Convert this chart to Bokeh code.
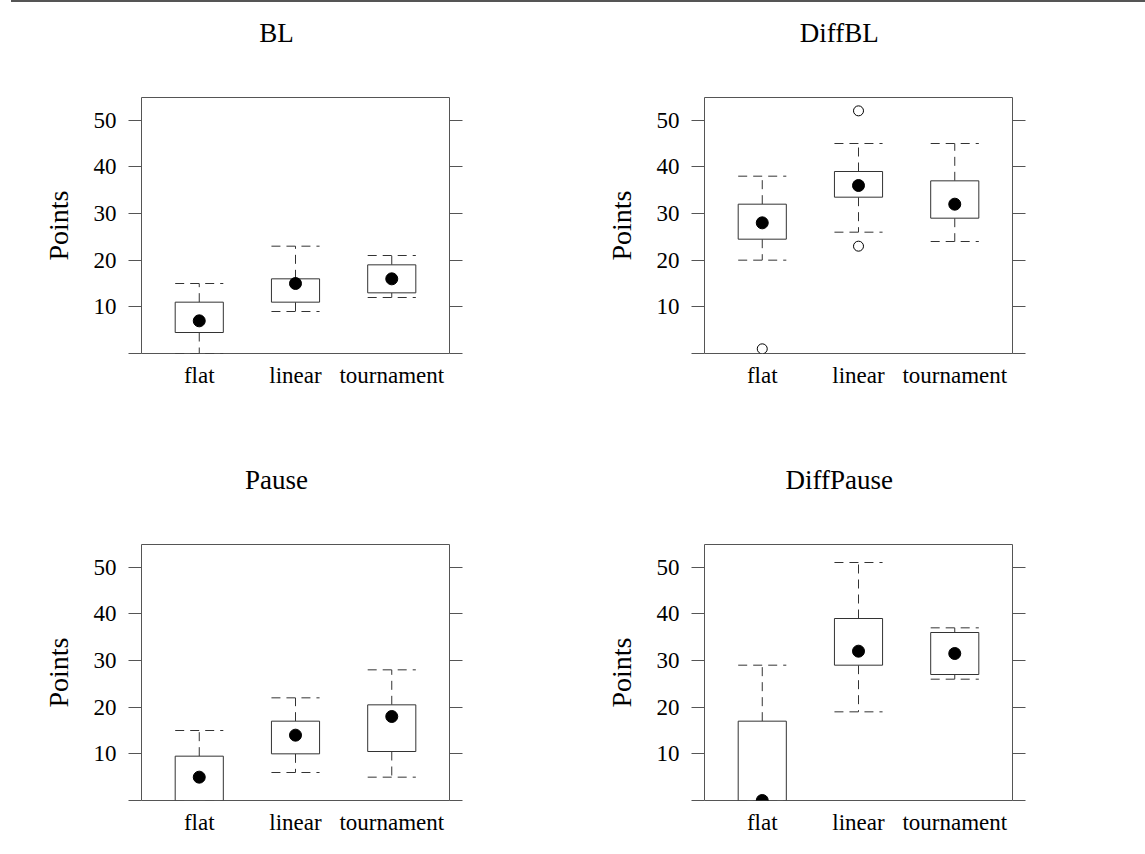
from bokeh.plotting import figure
from bokeh.layouts import column, row
from bokeh.models import Range1d, LinearAxis, FixedTicker, Title, Div
from bokeh.embed import file_html
from bokeh.resources import INLINE

categories = ["flat", "linear", "tournament"]

# five-number summaries per panel (lower whisker, Q1, median, Q3, upper whisker)
bl_lower = [0, 9, 12]
bl_q1 = [4.5, 11, 13]
bl_median = [7, 15, 16]
bl_q3 = [11, 16, 19]
bl_upper = [15, 23, 21]
bl_outliers = []

diffbl_lower = [20, 26, 24]
diffbl_q1 = [24.5, 33.5, 29]
diffbl_median = [28, 36, 32]
diffbl_q3 = [32, 39, 37]
diffbl_upper = [38, 45, 45]
diffbl_outliers = [("flat", 1), ("linear", 52), ("linear", 23)]

pause_lower = [0, 6, 5]
pause_q1 = [0, 10, 10.5]
pause_median = [5, 14, 18]
pause_q3 = [9.5, 17, 20.5]
pause_upper = [15, 22, 28]
pause_outliers = []

diffpause_lower = [0, 19, 26]
diffpause_q1 = [0, 29, 27]
diffpause_median = [0, 32, 31.5]
diffpause_q3 = [17, 39, 36]
diffpause_upper = [29, 51, 37]
diffpause_outliers = []

y_ticks = [0, 10, 20, 30, 40, 50]
y_max = 54.86

panels = [
    ("BL", bl_lower, bl_q1, bl_median, bl_q3, bl_upper, bl_outliers),
    ("DiffBL", diffbl_lower, diffbl_q1, diffbl_median, diffbl_q3, diffbl_upper, diffbl_outliers),
    ("Pause", pause_lower, pause_q1, pause_median, pause_q3, pause_upper, pause_outliers),
    ("DiffPause", diffpause_lower, diffpause_q1, diffpause_median, diffpause_q3, diffpause_upper, diffpause_outliers),
]

FONT = "Liberation Serif"
FRAME = "#555555"
BOXC = "#333333"
W = 564
FW, FH = 308, 256
HALF = 0.25
TITLE_PX = 27
# Times/Liberation Serif advance widths (per 1000 em) for title glyphs
CHAR_W = {"B": 667, "L": 611, "D": 722, "i": 278, "f": 333, "P": 556,
          "a": 444, "u": 500, "s": 389, "e": 444}


def make_panel(idx, title, lo, q1, med, q3, up, outl):
    top_row = idx < 2
    left_col = idx % 2 == 0
    H = 417 if top_row else 419
    bl = 141 if left_col else 140
    bt = 95 if top_row else 125
    p = figure(width=W, height=H, output_backend="svg", toolbar_location=None,
               x_range=Range1d(0.4, 3.6), y_range=Range1d(0, y_max),
               min_border_left=bl, min_border_right=W - bl - FW,
               min_border_top=bt, min_border_bottom=H - bt - FH,
               y_axis_location=None, x_axis_location=None)
    p.grid.visible = False
    p.outline_line_color = FRAME
    p.outline_line_width = 1
    p.background_fill_color = "white"
    p.border_fill_color = "white"

    xs = [1, 2, 3]
    # left axis
    ya = LinearAxis(ticker=FixedTicker(ticks=y_ticks), axis_label="Points")
    ya.major_label_overrides = {0: ""}
    ya.major_tick_out = 13
    ya.major_tick_in = 0
    ya.minor_tick_out = 0
    ya.minor_tick_in = 0
    ya.major_tick_line_color = FRAME
    ya.axis_line_color = None
    ya.major_label_standoff = 12
    ya.major_label_text_font = FONT
    ya.major_label_text_font_size = "23px"
    ya.major_label_text_color = "black"
    ya.axis_label_text_font = FONT
    ya.axis_label_text_font_size = "28px"
    ya.axis_label_text_font_style = "normal"
    ya.axis_label_text_color = "black"
    ya.axis_label_standoff = 17
    p.add_layout(ya, "left")
    # right axis: ticks only
    ra = LinearAxis(ticker=FixedTicker(ticks=y_ticks))
    ra.major_label_overrides = {t: "" for t in y_ticks}
    ra.major_tick_out = 13
    ra.major_tick_in = 0
    ra.minor_tick_out = 0
    ra.minor_tick_in = 0
    ra.major_tick_line_color = FRAME
    ra.axis_line_color = None
    p.add_layout(ra, "right")
    # bottom axis: labels only
    xa = LinearAxis(ticker=FixedTicker(ticks=xs))
    xa.major_label_overrides = {i + 1: c for i, c in enumerate(categories)}
    xa.major_tick_out = 0
    xa.major_tick_in = 0
    xa.minor_tick_out = 0
    xa.minor_tick_in = 0
    xa.axis_line_color = None
    xa.major_label_standoff = 9
    xa.major_label_text_font = FONT
    xa.major_label_text_font_size = "23px"
    xa.major_label_text_color = "black"
    p.add_layout(xa, "below")

    # whiskers (dashed)
    dash = "9 6"
    p.segment(x0=xs, y0=q3, x1=xs, y1=up, line_color=BOXC, line_dash=dash, line_width=1)
    p.segment(x0=xs, y0=q1, x1=xs, y1=lo, line_color=BOXC, line_dash=dash, line_width=1)
    p.segment(x0=[x - HALF for x in xs], y0=up, x1=[x + HALF for x in xs], y1=up,
              line_color=BOXC, line_dash=dash, line_width=1)
    p.segment(x0=[x - HALF for x in xs], y0=lo, x1=[x + HALF for x in xs], y1=lo,
              line_color=BOXC, line_dash=dash, line_width=1)
    # boxes
    p.quad(left=[x - HALF for x in xs], right=[x + HALF for x in xs], bottom=q1, top=q3,
           fill_color="white", line_color=BOXC, line_width=1)
    # medians
    p.scatter(x=xs, y=med, size=12, marker="circle", fill_color="black", line_color="black")
    # outliers
    if outl:
        ox = [categories.index(c) + 1 for c, _ in outl]
        oy = [v for _, v in outl]
        p.scatter(x=ox, y=oy, size=10, marker="circle", fill_color="white",
                  line_color="black", line_width=1)

    # invisible spacer axis above the frame: long transparent tick lifts the title
    sp = LinearAxis(ticker=FixedTicker(ticks=[2]))
    sp.major_label_overrides = {2: ""}
    sp.major_tick_out = 50
    sp.major_tick_in = 0
    sp.major_tick_line_color = None
    sp.minor_tick_out = 0
    sp.minor_tick_in = 0
    sp.axis_line_color = None
    sp.major_label_standoff = 0
    p.add_layout(sp, "above")

    tw = sum(CHAR_W[c] for c in title) / 1000 * TITLE_PX
    t = Title(text=title, align="left", offset=FW / 2 - 19 - tw / 2,
              vertical_align="bottom", standoff=0,
              text_font=FONT, text_font_size=f"{TITLE_PX}px",
              text_font_style="normal", text_color="black")
    p.add_layout(t, "above")
    return p


figs = [make_panel(i, *panels[i]) for i in range(4)]
topline = Div(text="", width=1134, height=2, margin=(0, 0, 0, 11),
              styles={"background-color": "#555555"})
layout = column(topline, row(figs[0], figs[1], spacing=0), row(figs[2], figs[3], spacing=0), spacing=0)
open("out.html", "w").write(file_html(layout, INLINE))
